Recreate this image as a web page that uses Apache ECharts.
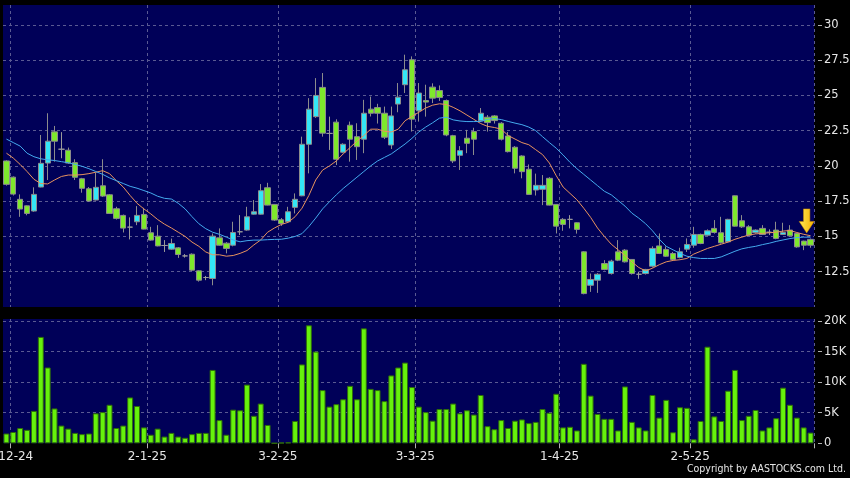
<!DOCTYPE html>
<html><head><meta charset="utf-8">
<script src="https://cdn.jsdelivr.net/npm/echarts@6/dist/echarts.min.js"></script>
<style>html,body{margin:0;padding:0;background:#000;}#c{width:850px;height:478px;}</style>
</head><body><div id="c"></div>
<script>
// Trading days (d-m-yy)
const dates = ['29-11-24',
'2-12-24','3-12-24','4-12-24','5-12-24','6-12-24','9-12-24','10-12-24','11-12-24','12-12-24','13-12-24','16-12-24','17-12-24','18-12-24','19-12-24','20-12-24','23-12-24','24-12-24','27-12-24','30-12-24','31-12-24',
'2-1-25','3-1-25','6-1-25','7-1-25','8-1-25','9-1-25','10-1-25','13-1-25','14-1-25','15-1-25','16-1-25','17-1-25','20-1-25','21-1-25','22-1-25','23-1-25','24-1-25','27-1-25','28-1-25',
'3-2-25','4-2-25','5-2-25','6-2-25','7-2-25','10-2-25','11-2-25','12-2-25','13-2-25','14-2-25','17-2-25','18-2-25','19-2-25','20-2-25','21-2-25','24-2-25','25-2-25','26-2-25','27-2-25','28-2-25',
'3-3-25','4-3-25','5-3-25','6-3-25','7-3-25','10-3-25','11-3-25','12-3-25','13-3-25','14-3-25','17-3-25','18-3-25','19-3-25','20-3-25','21-3-25','24-3-25','25-3-25','26-3-25','27-3-25','28-3-25','31-3-25',
'1-4-25','2-4-25','3-4-25','7-4-25','8-4-25','9-4-25','10-4-25','11-4-25','14-4-25','15-4-25','16-4-25','17-4-25','22-4-25','23-4-25','24-4-25','25-4-25','28-4-25','29-4-25','30-4-25',
'2-5-25','6-5-25','7-5-25','8-5-25','9-5-25','12-5-25','13-5-25','14-5-25','15-5-25','16-5-25','19-5-25','20-5-25','21-5-25','22-5-25','23-5-25','26-5-25','27-5-25','28-5-25'];

// x tick labels (first trading day of each month)
const monthLabels = ['2-12-24','2-1-25','3-2-25','3-3-25','1-4-25','2-5-25'];

// candles: [open, close, low, high]
const candles = [
[20.35,18.69,18.6,20.4],[19.2,18.0,17.9,19.25],[17.63,16.94,16.39,17.98],[17.17,16.63,16.5,17.2],[16.8,17.98,16.75,18.48],
[18.5,20.18,18.48,22.19],[20.2,21.75,19.0,23.73],[22.41,21.75,20.3,22.83],[21.18,21.18,20.54,22.39],[21.11,20.2,20.15,21.3],
[20.23,19.19,19.0,20.47],[19.09,18.41,18.1,19.15],[18.38,17.51,17.45,18.5],[17.58,18.48,17.55,19.52],[18.59,17.86,17.8,20.47],
[17.95,16.63,16.6,18.0],[16.96,16.28,16.2,17.1],[16.49,15.59,15.28,16.55],[15.66,15.66,14.79,16.35],[16.04,16.49,15.8,17.15],
[16.56,15.52,15.5,17.03],[15.26,14.74,14.7,15.68],[15.02,14.33,14.3,15.8],[14.36,14.36,13.9,14.74],[14.1,14.5,14.05,14.85],
[14.19,13.72,13.48,14.25],[13.62,13.62,13.5,13.75],[13.74,12.61,12.55,13.8],[12.56,11.9,11.8,12.6],[12.09,12.09,11.9,12.2],
[12.02,15.02,11.54,15.21],[14.9,14.38,14.35,15.57],[14.52,14.15,13.8,14.6],[14.38,15.28,14.3,16.04],[15.33,15.33,15.1,16.51],
[15.45,16.39,15.4,17.1],[16.58,16.75,16.55,17.58],[16.58,18.24,16.55,18.71],[18.45,17.22,17.2,18.8],[17.27,16.16,16.1,17.3],
[16.18,15.92,15.75,16.3],[16.04,16.75,16.0,17.1],[17.06,17.63,16.63,18.05],[17.88,21.53,17.85,22.07],[21.53,24.02,19.47,24.8],
[23.49,24.99,23.4,26.22],[25.56,22.32,22.07,26.58],[22.3,22.3,21.13,23.49],[23.1,20.47,20.06,23.3],[20.97,21.53,20.9,21.6],
[22.88,21.89,20.3,23.14],[22.07,21.36,20.42,23.02],[21.89,23.73,20.9,24.68],[24.02,23.73,23.5,24.91],[24.13,23.73,23.0,24.4],
[23.73,22.03,21.9,24.2],[21.48,23.54,21.2,24.2],[24.38,24.87,23.8,25.87],[25.75,26.81,25.16,27.88],[27.52,23.31,22.43,27.76],
[23.9,25.16,23.14,25.87],[24.63,24.52,23.49,25.75],[25.58,24.8,24.45,25.85],[25.34,24.84,24.6,25.7],[24.63,22.19,22.1,24.7],
[22.14,20.35,20.2,22.2],[20.75,21.08,19.71,21.4],[21.96,21.6,20.9,22.55],[22.43,21.89,20.77,22.7],[23.19,23.73,23.1,24.1],
[23.45,23.07,22.43,23.6],[23.54,23.21,23.0,23.6],[23.02,21.89,21.8,23.1],[22.12,21.01,20.95,22.4],[21.32,19.83,19.47,21.4],
[20.7,19.59,19.12,20.75],[19.76,17.98,17.95,20.1],[18.29,18.62,17.9,19.45],[18.34,18.62,17.22,19.35],[19.12,17.22,17.2,19.2],
[17.27,15.73,15.21,17.3],[16.21,15.85,15.4,16.3],[16.21,16.21,15.57,16.51],[15.97,15.5,15.2,16.0],[13.91,10.95,10.9,13.95],
[11.54,11.95,11.07,12.37],[11.9,12.32,11.0,12.4],[13.08,12.66,12.6,13.32],[12.37,13.25,12.3,13.35],[13.91,13.32,13.25,14.74],
[14.03,13.2,13.15,14.1],[13.37,12.37,12.3,13.4],[12.32,12.32,12.0,12.5],[12.37,12.66,12.3,12.7],[12.89,14.15,12.8,14.3],
[14.33,13.79,13.75,15.21],[14.08,13.6,13.55,14.3],[13.79,13.37,13.3,13.9],[13.51,13.91,13.45,14.2],[14.1,14.43,13.9,14.86],
[14.38,15.14,14.2,15.68],[15.14,14.5,14.45,15.2],[15.09,15.4,15.05,15.5],[15.57,15.28,15.2,16.16],[15.26,14.55,14.5,16.39],
[14.62,16.21,14.6,16.25],[17.88,15.73,15.7,17.9],[16.11,15.68,15.6,16.51],[15.68,15.09,15.05,15.8],[15.28,15.45,15.2,15.5],
[15.57,15.14,15.1,15.8],[15.3,15.3,15.1,15.5],[15.45,14.86,14.8,16.04],[15.14,15.28,15.1,15.97],[15.45,15.04,15.0,15.8],
[15.21,14.26,14.2,15.25],[14.67,14.38,14.03,14.7],[14.79,14.38,14.2,14.85]];

// volume in thousands
const volumeK = [
1.6,1.85,2.5,2.2,5.3,17.4,12.4,5.7,2.9,2.4,
1.7,1.5,1.6,4.9,5.1,6.3,2.5,2.9,7.5,6.1,
2.6,1.4,2.4,1.1,1.7,1.1,0.9,1.5,1.7,1.7,
12.0,3.8,1.4,5.5,5.4,9.6,4.5,6.5,3.0,0.02,
0.1,0.15,3.65,12.9,19.3,15.0,8.7,6.0,6.4,7.2,
9.4,7.2,18.8,8.9,8.7,6.9,11.1,12.4,13.2,9.2,
6.0,5.1,3.7,5.6,5.6,6.5,4.9,5.4,4.7,7.9,
2.8,2.3,3.8,2.5,3.7,3.9,3.3,3.5,5.6,5.0,
8.1,2.6,2.7,2.1,13.0,7.8,4.8,4.0,4.0,2.1,
9.3,3.5,2.6,2.1,7.9,4.2,7.1,1.8,5.9,5.8,
0.65,3.65,15.8,4.4,3.65,8.6,12.0,3.8,4.5,5.45,
2.1,2.6,4.1,9.1,6.3,4.2,2.6,1.75];

// short moving average (orange)
const maShort = [
20.9,20.55,20.1,19.6,19.05,18.75,18.72,19.0,19.25,19.35,
19.35,19.38,19.45,19.55,19.66,19.45,18.95,18.5,17.9,17.35,
16.95,16.6,16.2,15.87,15.6,15.3,15.0,14.6,14.3,13.9,
13.7,13.7,13.6,13.65,13.8,14.0,14.4,14.75,15.3,15.6,
15.85,16.0,16.4,17.0,17.9,19.0,19.7,20.0,20.35,20.85,
21.3,21.75,22.15,22.6,22.6,22.45,22.4,22.6,23.2,23.5,
23.8,24.1,24.3,24.4,24.35,24.15,23.9,23.6,23.3,23.0,
22.8,22.72,22.6,22.15,21.9,21.65,21.5,21.15,20.8,20.2,
19.3,18.5,18.05,17.6,17.0,16.35,15.6,15.0,14.45,14.05,
13.65,13.2,12.8,12.56,12.75,13.0,13.2,13.3,13.35,13.44,
13.75,13.95,14.15,14.3,14.45,14.6,14.8,14.95,15.1,15.18,
15.22,15.26,15.3,15.38,15.42,15.28,15.15,15.05];

// long moving average (blue)
const maLong = [
21.9,21.65,21.4,20.9,20.65,20.5,20.43,20.38,20.3,20.22,
20.1,19.97,19.8,19.6,19.4,19.15,18.95,18.75,18.55,18.42,
18.25,18.08,17.85,17.7,17.65,17.35,16.95,16.4,15.9,15.55,
15.3,15.15,14.95,14.75,14.62,14.7,14.74,14.74,14.77,14.79,
14.8,14.88,15.0,15.2,15.7,16.3,16.95,17.46,17.95,18.4,
18.8,19.2,19.6,20.0,20.35,20.6,20.85,21.2,21.55,21.95,
22.4,22.75,23.05,23.38,23.45,23.26,23.18,23.14,23.14,23.15,
23.3,23.35,23.28,23.15,23.03,22.92,22.75,22.5,22.07,21.65,
21.25,20.77,20.25,19.8,19.4,19.0,18.6,18.2,17.95,17.55,
17.15,16.65,16.3,15.9,15.4,14.8,14.3,14.05,13.8,13.6,
13.5,13.44,13.44,13.44,13.55,13.75,13.95,14.12,14.22,14.3,
14.42,14.52,14.65,14.75,14.85,14.92,14.95,14.95];

// annotation arrow
const arrowMark = {date: '27-5-25', price: 16.1};

const isMonthStart = (i) => monthLabels.indexOf(dates[i]) >= 0;
const gridLine = {show: true, interval: (i) => isMonthStart(i), lineStyle: {color: '#5a5a92', type: [3, 3], width: 1}};
const hGridLine = {show: true, showMinLine: false, showMaxLine: false, lineStyle: {color: '#5a5a92', type: [3, 3], width: 1}};
const FONT = 'DejaVu Sans';

const chart = echarts.init(document.getElementById('c'), null, {renderer: 'canvas'});
chart.setOption({
  backgroundColor: '#000000',
  animation: false,
  grid: [
    {left: 3, right: 36, top: 5, height: 302, show: true, backgroundColor: '#000058', borderWidth: 0, containLabel: false, outerBoundsMode: 'none'},
    {left: 3, right: 36, top: 319, height: 124.3, show: true, backgroundColor: '#000058', borderWidth: 0, containLabel: false, outerBoundsMode: 'none'}
  ],
  xAxis: [
    {type: 'category', data: dates, gridIndex: 0, boundaryGap: true,
     axisLine: {show: false}, axisTick: {show: false}, axisLabel: {show: false}, splitLine: gridLine},
    {type: 'category', data: dates, gridIndex: 1, boundaryGap: true,
     axisLine: {show: false},
     axisTick: {show: true, interval: (i) => isMonthStart(i), length: 5, lineStyle: {color: '#b0b0b0'}},
     axisLabel: {interval: (i) => isMonthStart(i), color: '#e6e6e6', fontFamily: FONT, fontSize: 12, margin: 8, padding: [0, 7, 0, 0]},
     splitLine: gridLine}
  ],
  yAxis: [
    {type: 'value', gridIndex: 0, position: 'right', min: 10, max: 31.4, interval: 2.5, offset: 4,
     axisLine: {show: false}, axisTick: {show: true, length: 4, lineStyle: {color: '#b0b0b0'}},
     axisLabel: {showMinLabel: false, showMaxLabel: false, color: '#e6e6e6', fontFamily: FONT, fontSize: 11.5, margin: 6},
     splitLine: hGridLine},
    {type: 'value', gridIndex: 1, position: 'right', min: 0, max: 20.33, interval: 5, offset: 4,
     axisLine: {show: false}, axisTick: {show: true, length: 4, lineStyle: {color: '#b0b0b0'}},
     axisLabel: {showMaxLabel: false, color: '#e6e6e6', fontFamily: FONT, fontSize: 11.5, margin: 6,
       formatter: (v) => v === 0 ? '0' : v + 'K'},
     splitLine: hGridLine}
  ],
  series: [
    {type: 'candlestick', xAxisIndex: 0, yAxisIndex: 0, data: candles, barWidth: '84%',
     itemStyle: {color: '#33e6f6', color0: '#7ee82c', borderColor: '#8c8c8c', borderColor0: '#8c8c8c', borderColorDoji: '#9a9a9a', borderWidth: 1},
     markPoint: {
       symbol: 'path://M4,0 L10,0 L10,12 L14,12 L7,23 L0,12 L4,12 Z',
       symbolSize: [15, 24], symbolOffset: [3, 0],
       label: {show: false},
       itemStyle: {color: new echarts.graphic.LinearGradient(0, 0, 1, 0, [{offset: 0, color: '#ffe955'}, {offset: 1, color: '#f5b000'}]), borderColor: '#c88a00', borderWidth: 0.5},
       data: [{coord: [arrowMark.date, arrowMark.price]}]
     }},
    {type: 'line', xAxisIndex: 0, yAxisIndex: 0, data: maShort, symbol: 'none', smooth: false,
     lineStyle: {color: '#e8935e', width: 1}, z: 3},
    {type: 'line', xAxisIndex: 0, yAxisIndex: 0, data: maLong, symbol: 'none', smooth: false,
     lineStyle: {color: '#44aaee', width: 1}, z: 3},
    {type: 'bar', xAxisIndex: 1, yAxisIndex: 1, data: volumeK, barWidth: '86%',
     itemStyle: {color: '#66f20c', borderColor: '#2f6e0a', borderWidth: 1}}
  ],
  graphic: [
    {type: 'text', right: 4, top: 464,
     style: {text: 'Copyright by AASTOCKS.com Ltd.', fill: '#e6e6e6', font: '10.5px "DejaVu Sans Condensed", "DejaVu Sans", sans-serif'}}
  ]
});
</script>
</body></html>
